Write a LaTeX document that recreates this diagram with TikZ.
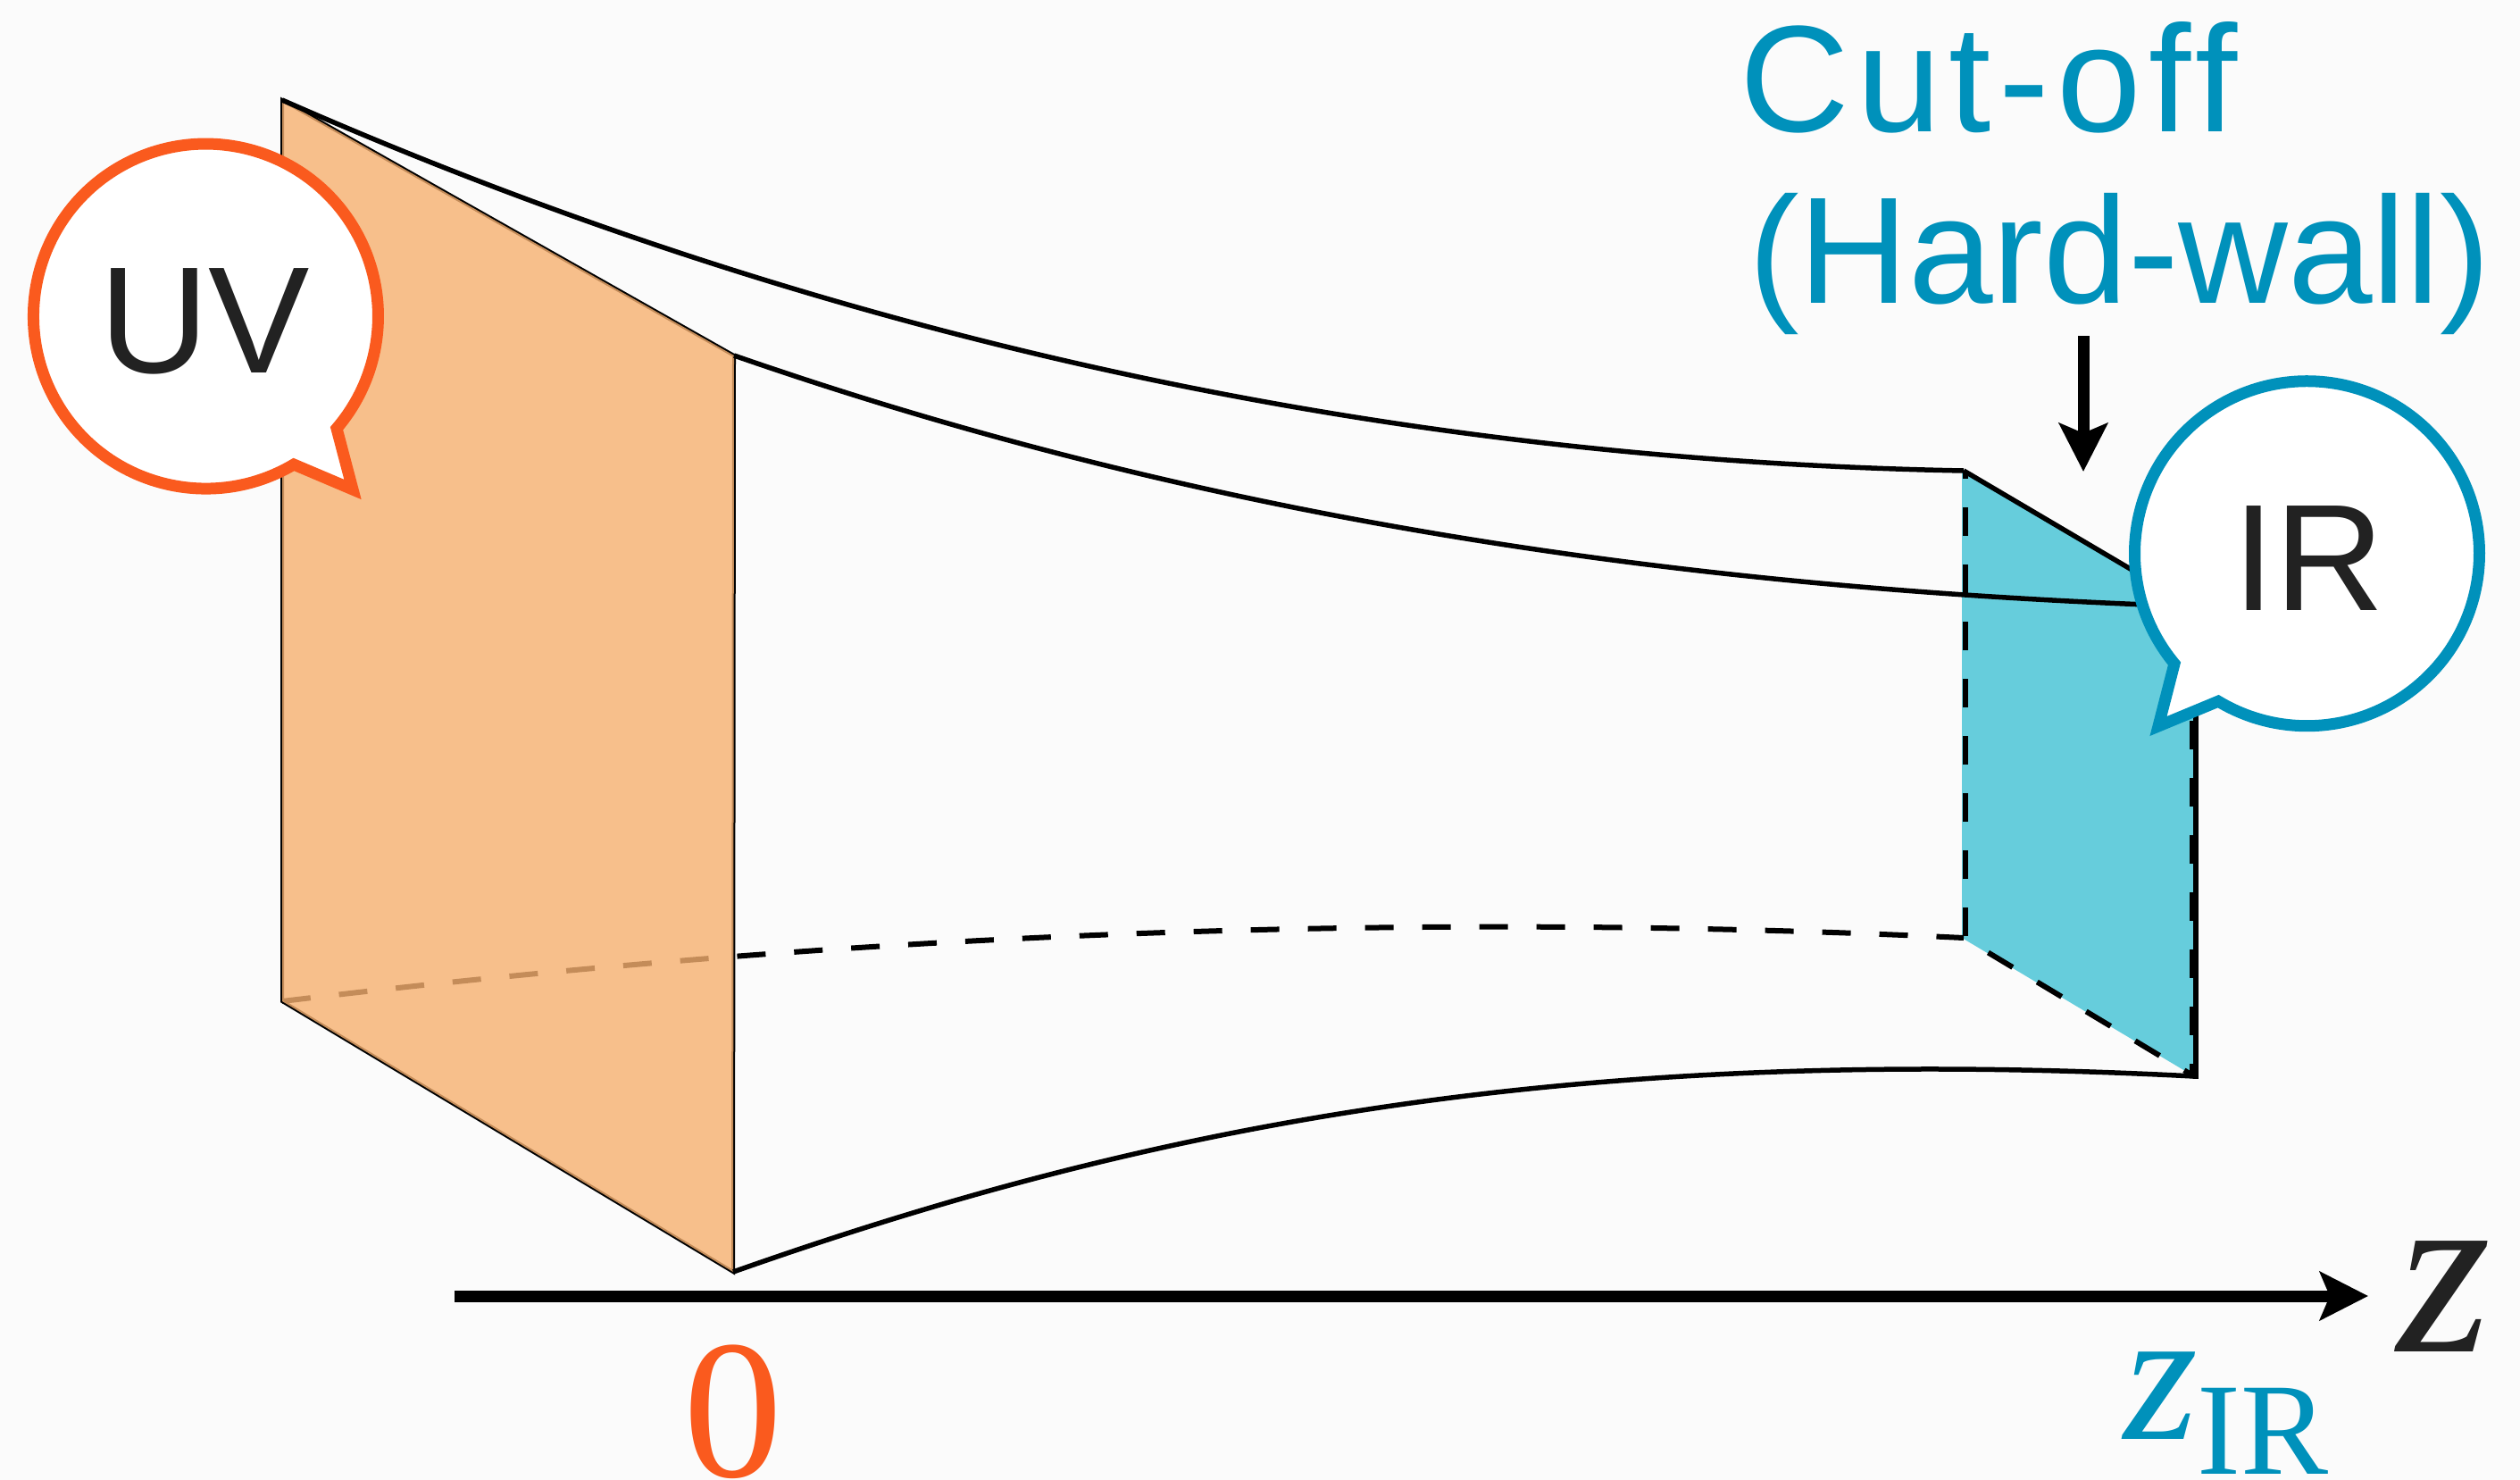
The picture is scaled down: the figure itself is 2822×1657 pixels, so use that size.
\documentclass[tikz,border=0pt]{standalone}
\usepackage{fontspec}
\usetikzlibrary{arrows.meta}
\newfontfamily\labelsans{Liberation Sans}
\newfontfamily\cutsans[LetterSpace=5]{Liberation Sans}
\newfontfamily\numserif{Liberation Serif}
\newfontfamily\itserif[ItalicFont=*]{Liberation Serif Italic}
\definecolor{bgc}{HTML}{FBFBFB}
\definecolor{peach}{HTML}{F6B070}
\definecolor{cyanfill}{HTML}{66CDDC}
\definecolor{uvorange}{HTML}{FA5A1E}
\definecolor{irblue}{HTML}{0091BB}
\definecolor{inkc}{HTML}{222222}
\tikzset{
  edge/.style={black,line width=5.5pt},
  thinedge/.style={black,line width=4pt},
  dashedge/.style={black,line width=6pt,dash pattern=on 32pt off 32pt},
  axisline/.style={black,line width=13pt,-{Stealth[length=54pt,width=54pt,inset=11pt]}},
  bubble/.style={fill=white,line width=13pt,miter limit=20,line join=miter},
  lab/.style={inner sep=0pt,outer sep=0pt,anchor=base west},
  biglab/.style={lab,font=\labelsans\fontsize{170}{170}\selectfont},
}
\begin{document}
\begin{tikzpicture}[x=1pt,y=-1pt]
\fill[bgc] (0,0) rectangle (2822,1657);
\useasboundingbox (0,0) rectangle (2822,1657);
% corners
\coordinate (A) at (316,112);
\coordinate (B) at (822,398);
\coordinate (C) at (316,1121);
\coordinate (D) at (821,1424);
\coordinate (P1) at (2199,527);
\coordinate (P2) at (2199,1050);
\coordinate (P3) at (2457,1205);
\coordinate (P4) at (2457,679);
% IR face
\fill[cyanfill] ([xshift=-2pt]P1) -- (P4) -- (P3) -- ([xshift=-2pt]P2) -- cycle;
\draw[edge] ([xshift=2pt]P4) -- ([xshift=2pt,yshift=-3pt]P3);
% dashed back curve below the translucent face
\draw[dashedge] (C) .. controls (944,1045) and (1571,1020) .. (P2);
% UV face
\draw[thinedge] (A) -- (B) -- (D) -- (C) -- cycle;
\fill[peach,opacity=.8] (A) -- (B) -- (D) -- (C) -- cycle;
% tunnel
\draw[edge] (A) .. controls (930,382) and (1560,515) .. (P1);
\draw[edge] (B) .. controls (1360,585) and (1900,660) .. (P4);
\draw[edge] (D) .. controls (1280,1262) and (1750,1168) .. (P3);
\draw[edge] (P1) -- (P4);
\draw[dashedge,dash phase=23pt] ([xshift=2pt]P1) -- ([xshift=2pt]P2);
\draw[dashedge,dash phase=32pt] (P2) -- (P3);
\draw[dashedge] ([xshift=-2pt]P4) -- ([xshift=-2pt]P3);
% axis
\coordinate (axs) at (509,1451);
\coordinate (axe) at (2652,1451);
\draw[axisline] (axs) -- (axe);
\coordinate (ars) at (2333,376);
\coordinate (are) at (2333,528);
\draw[axisline] (ars) -- (are);
% bubbles
\draw[bubble,draw=uvorange] (329,520) arc[start angle=59.3,end angle=400.6,radius=193] -- (395,548) -- cycle;
\draw[bubble,draw=irblue] (2435,743) arc[start angle=140.3,end angle=481,radius=193] -- (2417,813) -- cycle;
% labels
\node[biglab,text=inkc] (uv) at (111,417) {UV};
\node[biglab,text=inkc] (ir) at (2500,683) {IR};
\node[lab,text=irblue,font=\cutsans\fontsize{170}{170}\selectfont] (cut) at (1948,147) {Cut-off};
\node[biglab,text=irblue] (hard) at (1958,339) {(Hard-wall)};
\node[lab,text=uvorange,font=\numserif\fontsize{222}{222}\selectfont] (zero) at (765,1653) {0};
\node[lab,text=inkc,font=\itserif\fontsize{270}{270}\selectfont] (zz) at (2684,1513) {z};
\node[lab,text=irblue,font=\itserif\fontsize{213}{213}\selectfont] (zir) at (2378,1611) {z\raisebox{-39pt}{\numserif\fontsize{147}{147}\selectfont IR}};
\end{tikzpicture}
\end{document}
